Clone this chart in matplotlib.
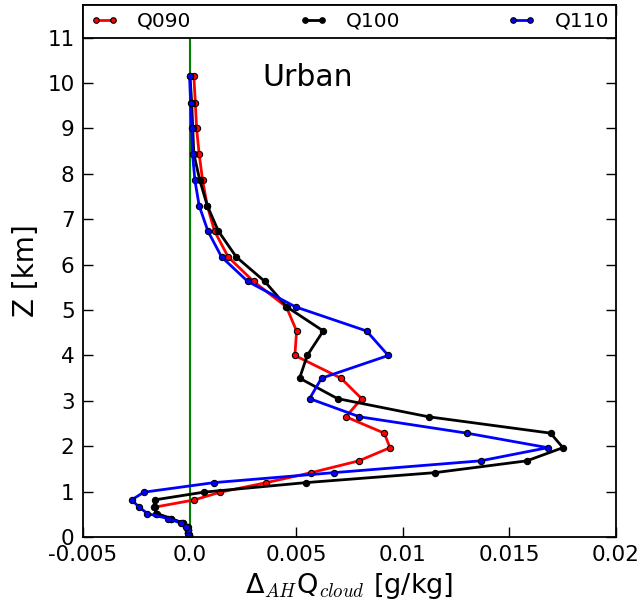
import matplotlib
matplotlib.use('Agg')
import numpy as np
import matplotlib.pyplot as plt

plt.rcParams['mathtext.fontset'] = 'cm'
plt.rcParams['font.family'] = 'DejaVu Sans'

# model levels [km]
z = [0.04, 0.09, 0.15, 0.23, 0.31, 0.41, 0.52, 0.66, 0.82, 0.99,
     1.20, 1.42, 1.68, 1.97, 2.29, 2.65, 3.05, 3.50, 4.00, 4.54,
     5.07, 5.63, 6.17, 6.74, 7.30, 7.86, 8.44, 9.00, 9.57, 10.16]

# Delta_AH Qcloud [g/kg]
q090 = [-0.00003, -0.00005, -0.00008, -0.00009, -0.00033, -0.00089, -0.00155, -0.00164, 0.00022, 0.00144,
        0.0036, 0.00571, 0.00794, 0.0094, 0.00913, 0.00733, 0.00807, 0.0071, 0.00494, 0.00502,
        0.00454, 0.003, 0.00181, 0.00117, 0.00083, 0.00061, 0.00045, 0.00033, 0.00027, 0.0002]
q100 = [-0.00003, -0.00005, -0.00008, -0.00011, -0.00031, -0.00086, -0.00156, -0.00167, -0.00164, 0.00066,
        0.00544, 0.01151, 0.01582, 0.01751, 0.01693, 0.01121, 0.00694, 0.00516, 0.00552, 0.00627,
        0.00456, 0.00353, 0.00219, 0.00135, 0.00083, 0.00048, 0.0002, 0.00015, 0.0001, 0.00002]
q110 = [-0.00003, -0.00005, -0.00008, -0.00015, -0.00042, -0.00102, -0.00198, -0.00236, -0.00272, -0.00214,
        0.00114, 0.00677, 0.01365, 0.0168, 0.0130, 0.00797, 0.00563, 0.00619, 0.00932, 0.0083,
        0.00497, 0.00273, 0.0015, 0.00086, 0.00045, 0.00025, 0.00014, 0.0001, 0.00005, 0.0]

xticks = [-0.005, 0.0, 0.005, 0.01, 0.015, 0.02]
xticklabels = ['-0.005', '0.0', '0.005', '0.01', '0.015', '0.02']
yticks = list(range(0, 12))

fig = plt.figure(figsize=(6.43, 6.09), dpi=100)
ax = fig.add_axes([0.129, 0.118, 0.829, 0.874])

ax.axvline(0, color='green', lw=1.5, zorder=1)
kw = dict(lw=2, marker='o', markersize=4.5, markeredgecolor='k', markeredgewidth=0.8)
ax.plot(q090, z, color='red', label='Q090', **kw)
ax.plot(q100, z, color='black', label='Q100', **kw)
ax.plot(q110, z, color='blue', label='Q110', **kw)

ax.set_xlim(-0.005, 0.02)
ax.set_ylim(0, 11.72)
ax.set_xticks(xticks)
ax.set_xticklabels(xticklabels)
ax.set_yticks(yticks)
ax.tick_params(direction='in', length=7, width=1, top=True, right=True, labelsize=15.5, pad=6)
for s in ax.spines.values():
    s.set_linewidth(1.3)

ax.set_xlabel(r'Δ$_{AH}$Q$_{cloud}$ [g/kg]', fontsize=19.5, labelpad=4)
ax.set_ylabel('Z [km]', fontsize=20, labelpad=5)
ax.text(0.422, 0.863, 'Urban', transform=ax.transAxes, fontsize=21.5, ha='center', va='center')

leg = ax.legend(loc='upper center', bbox_to_anchor=(0, 0, 1, 1), mode='expand', ncol=3,
                borderaxespad=0, fontsize=14.5, numpoints=2, handlelength=1.45,
                handletextpad=0.9, borderpad=0.35, fancybox=False, framealpha=1)
leg.get_frame().set_edgecolor('k')
leg.get_frame().set_linewidth(1.3)
for h in leg.legend_handles:
    h.set_markersize(4)

fig.savefig('out.png', dpi=100)
